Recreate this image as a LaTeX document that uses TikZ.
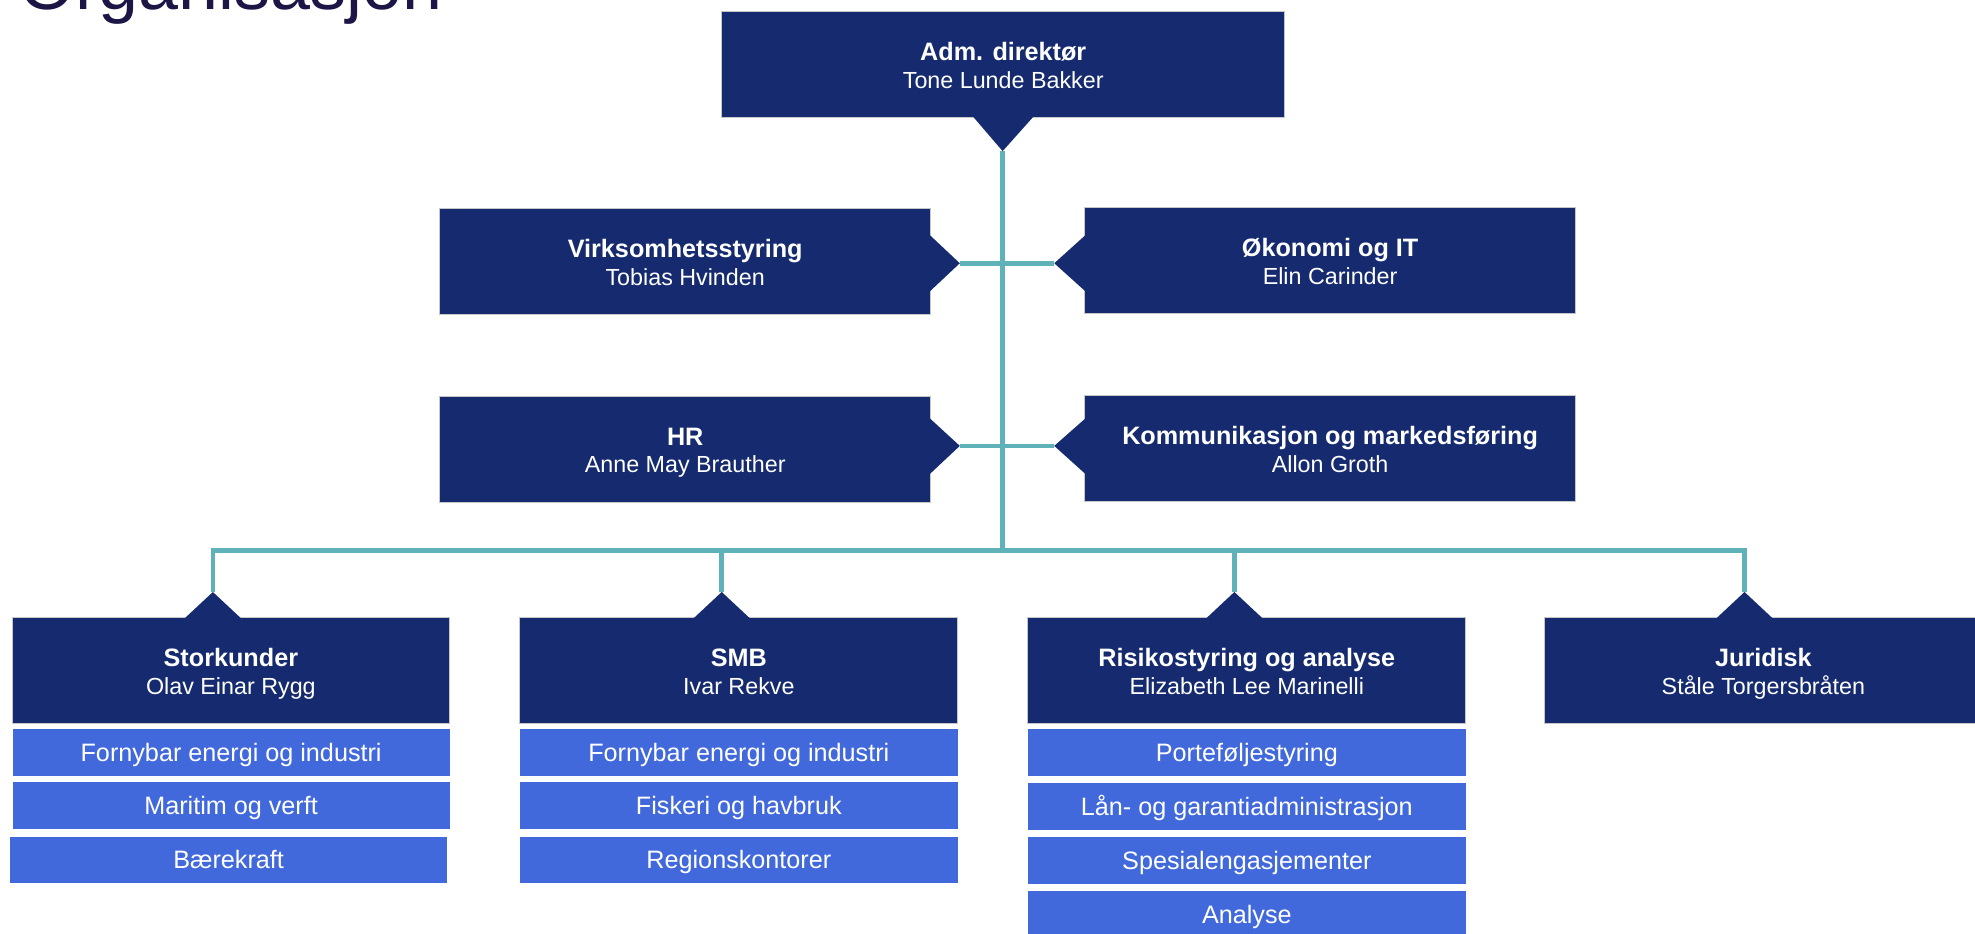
\documentclass[tikz,border=0pt]{standalone}
\usepackage{fontspec}
\setmainfont{Liberation Sans}
\definecolor{navy}{RGB}{22,43,111}
\definecolor{subblue}{RGB}{65,105,220}
\definecolor{tealc}{RGB}{95,178,184}
\definecolor{titlecol}{RGB}{28,22,70}
\newcommand\OrgUnit[6]{%
  \node[darkbox, minimum width=#4pt] (#1) at (#2,#3) {};
  \node[ttlfont, anchor=base] (#1-t) at ([yshift=3pt]#1.center) {#5};
  \node[namefont, anchor=base] (#1-n) at ([yshift=-19pt]#1.center) {#6};
}
\begin{document}
\begin{tikzpicture}[x=1pt,y=-1pt,
  darkbox/.style={fill=navy, draw=gray!45, line width=0.7pt, inner sep=0pt, minimum height=84pt},
  subbox/.style={fill=subblue, inner sep=0pt, minimum height=37pt, text=white,
    font=\fontsize{20}{22}\selectfont, text height=14pt, text depth=0pt},
  ttlfont/.style={text=white, inner sep=0pt, font=\fontsize{20}{22}\selectfont\bfseries},
  namefont/.style={text=white, inner sep=0pt, font=\fontsize{18.5}{20}\selectfont},
  conn/.style={draw=tealc, line width=3.6pt, line join=miter},
  pointer/.style={fill=navy}]
\useasboundingbox (0,0) rectangle (1568,741);
\clip (0,0) rectangle (1568,741);

% title
\node[anchor=base west, text=titlecol, inner sep=0pt, font=\fontsize{57}{60}\selectfont] (title) at (15,7.5) {Organisasjon};

% connector points
\coordinate (adm-tip) at (796,120);
\coordinate (virks-pt) at (762,209);
\coordinate (oko-pt) at (837,209);
\coordinate (hr-pt) at (762,354);
\coordinate (komm-pt) at (837,354);
\coordinate (bus) at (796,437);
\coordinate (stork-tip) at (169,470);
\coordinate (smb-tip) at (573,470);
\coordinate (risk-tip) at (980,470);
\coordinate (jur-tip) at (1385,470);

% connectors
\draw[conn] (adm-tip) -- (bus);
\draw[conn] (virks-pt) -- (oko-pt);
\draw[conn] (hr-pt) -- (komm-pt);
\draw[conn] (stork-tip) -- (stork-tip |- bus) -- (jur-tip |- bus) -- (jur-tip);
\draw[conn] (smb-tip) -- (smb-tip |- bus);
\draw[conn] (risk-tip) -- (risk-tip |- bus);

% boxes
\OrgUnit{adm}{796.5}{51}{447}{Adm. direktør}{Tone Lunde Bakker}
\OrgUnit{virks}{544}{207.5}{390}{Virksomhetsstyring}{Tobias Hvinden}
\OrgUnit{oko}{1056}{207}{390}{Økonomi og IT}{Elin Carinder}
\OrgUnit{hr}{544}{356.5}{390}{HR}{Anne May Brauther}
\OrgUnit{komm}{1056}{356}{390}{Kommunikasjon og markedsføring}{Allon Groth}
\OrgUnit{stork}{183.3}{532.5}{347.4}{Storkunder}{Olav Einar Rygg}
\OrgUnit{smb}{586.6}{532.5}{347.8}{SMB}{Ivar Rekve}
\OrgUnit{risk}{989.9}{532.5}{347.7}{Risikostyring og analyse}{Elizabeth Lee Marinelli}
\OrgUnit{jur}{1400}{532.5}{348}{Juridisk}{Ståle Torgersbråten}

% pointers (drawn over the box borders)
\fill[pointer] (adm-tip) -- (772,92) -- (821,92) -- cycle;
\fill[pointer] (737.5,186) -- (virks-pt) -- (737.5,232) -- cycle;
\fill[pointer] (862.5,186) -- (oko-pt) -- (862.5,232) -- cycle;
\fill[pointer] (737.5,331.5) -- (hr-pt) -- (737.5,377) -- cycle;
\fill[pointer] (862.5,331.5) -- (komm-pt) -- (862.5,377) -- cycle;
\fill[pointer] (stork-tip) -- (146,491.5) -- (192,491.5) -- cycle;
\fill[pointer] (smb-tip) -- (550,491.5) -- (596,491.5) -- cycle;
\fill[pointer] (risk-tip) -- (957,491.5) -- (1003,491.5) -- cycle;
\fill[pointer] (jur-tip) -- (1362,491.5) -- (1408,491.5) -- cycle;

% sub-units
\node[subbox, minimum width=347pt] (stork1) at (183.5,597.3) {Fornybar energi og industri};
\node[subbox, minimum width=347pt] (stork2) at (183.5,639.3) {Maritim og verft};
\node[subbox, minimum width=347pt] (stork3) at (181.5,682.9) {Bærekraft};
\node[subbox, minimum width=347.8pt] (smb1) at (586.6,597.3) {Fornybar energi og industri};
\node[subbox, minimum width=347.8pt] (smb2) at (586.6,639.3) {Fiskeri og havbruk};
\node[subbox, minimum width=347.8pt] (smb3) at (586.6,682.9) {Regionskontorer};
\node[subbox, minimum width=347.7pt] (risk1) at (989.9,597.3) {Porteføljestyring};
\node[subbox, minimum width=347.7pt] (risk2) at (989.9,640.1) {Lån- og garantiadministrasjon};
\node[subbox, minimum width=347.7pt] (risk3) at (989.9,683) {Spesialengasjementer};
\node[subbox, minimum width=347.7pt, minimum height=38pt] (risk4) at (989.9,726.4) {Analyse};
\end{tikzpicture}
\end{document}
